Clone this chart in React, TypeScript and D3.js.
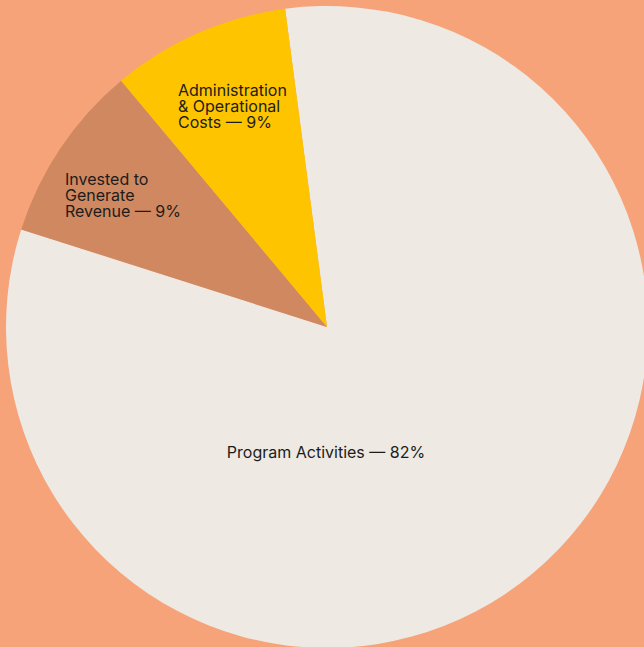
import { useEffect, useRef } from "react";
import * as d3 from "d3";

const categories = ["Program Activities", "Invested to Generate Revenue", "Administration & Operational Costs"];
const values = [82, 9, 9];
const labelLines = [
  ["Program Activities — 82%"],
  ["Invested to", "Generate", "Revenue — 9%"],
  ["Administration", "& Operational", "Costs — 9%"],
];
const colors = ["#EEE9E3", "#D08860", "#FFC400"];

const width = 644;
const height = 647;
const cx = 327;
const cy = 327;
const radius = 321;
// label anchor offsets from the centre, and text alignment
const labelPos = [
  { dx: -1, dy: 131, anchor: "middle" },
  { dx: -262, dy: -142, anchor: "start" },
  { dx: -149, dy: -231, anchor: "start" },
];

export default function App() {
  const ref = useRef<SVGSVGElement>(null);

  useEffect(() => {
    const svg = d3.select(ref.current!);
    svg.selectAll("*").remove();

    svg.append("rect").attr("width", width).attr("height", height).attr("fill", "#F6A379");

    const start = (-7.5 * Math.PI) / 180;
    const pie = d3
      .pie<number>()
      .sort(null)
      .startAngle(start)
      .endAngle(start + Math.PI * 2);
    const arc = d3.arc<d3.PieArcDatum<number>>().innerRadius(0).outerRadius(radius);

    const g = svg.append("g").attr("transform", `translate(${cx} ${cy})`);

    g.selectAll("path")
      .data(pie(values))
      .enter()
      .append("path")
      .attr("d", arc)
      .attr("fill", (d, i) => colors[i]);

    const labels = g
      .selectAll("text")
      .data(categories)
      .enter()
      .append("text")
      .attr("x", (d, i) => labelPos[i].dx)
      .attr("y", (d, i) => labelPos[i].dy)
      .attr("text-anchor", (d, i) => labelPos[i].anchor)
      .attr("fill", "#1c1c1c")
      .style("font-family", "Inter, sans-serif")
      .style("font-size", "16px");

    labels.each(function (d, i) {
      const t = d3.select(this);
      labelLines[i].forEach((line, j) => {
        t.append("tspan")
          .attr("x", labelPos[i].dx)
          .attr("dy", j === 0 ? 0 : 16)
          .text(line);
      });
    });
  }, []);

  return (
    <svg
      ref={ref}
      width={width}
      height={height}
      style={{ position: "absolute", left: 0, top: 0, display: "block" }}
    ></svg>
  );
}
